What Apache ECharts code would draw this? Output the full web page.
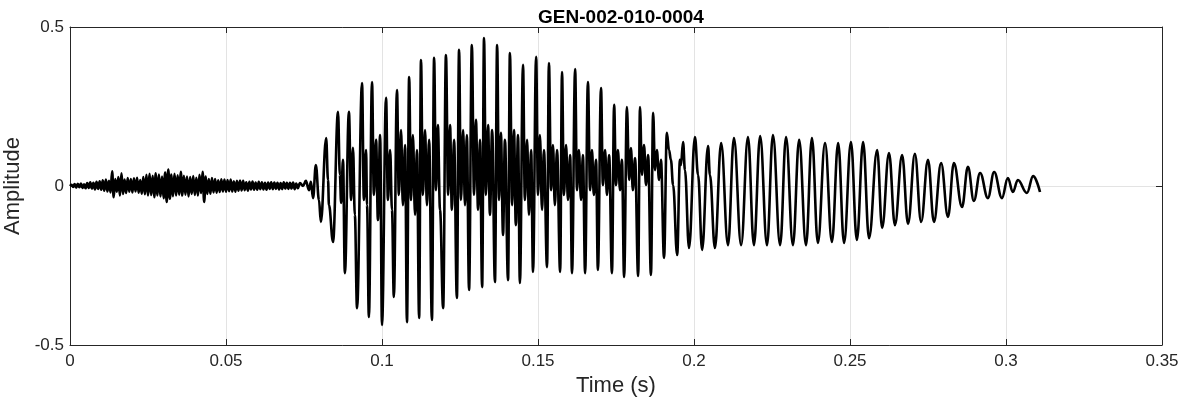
<!DOCTYPE html>
<html>
<head>
<meta charset="utf-8">
<script src="https://cdn.jsdelivr.net/npm/echarts@6/dist/echarts.min.js"></script>
<style>
html,body{margin:0;padding:0;background:#fff;}
#chart{width:1182px;height:404px;}
</style>
</head>
<body>
<div id="chart"></div>
<script>
// ---- Data (time in s, amplitude) ----
const chartTitle = "GEN-002-010-0004";
const xTicks = [0, 0.05, 0.1, 0.15, 0.2, 0.25, 0.3, 0.35];
const yTicks = [-0.5, 0, 0.5];

// low-level noise before voicing onset
const onsetNoise = [
[0.0000,0],[0.0005,0.004],[0.0010,-0.003],[0.0015,0.006],[0.0020,-0.005],[0.0025,0.007],[0.0030,-0.004],[0.0035,0.008],[0.0040,-0.006],[0.0045,0.005],
[0.0050,-0.007],[0.0055,0.009],[0.0060,-0.006],[0.0065,0.012],[0.0070,-0.008],[0.0075,0.010],[0.0080,-0.011],[0.0085,0.013],[0.0090,-0.009],[0.0095,0.015],
[0.0100,-0.012],[0.0105,0.018],[0.0110,-0.015],[0.0115,0.020],[0.0120,-0.017],[0.0125,0.016],[0.0130,-0.020],[0.0135,0.046],[0.0140,-0.035],[0.0145,0.022],
[0.0150,-0.018],[0.0155,0.028],[0.0160,-0.030],[0.0165,0.040],[0.0170,-0.025],[0.0175,0.020],[0.0180,-0.022],[0.0185,0.025],[0.0190,-0.018],[0.0195,0.022],
[0.0200,-0.020],[0.0205,0.024],[0.0210,-0.017],[0.0215,0.026],[0.0220,-0.021],[0.0225,0.019],[0.0230,-0.024],[0.0235,0.028],[0.0240,-0.026],[0.0245,0.035],
[0.0250,-0.030],[0.0255,0.038],[0.0260,-0.028],[0.0265,0.032],[0.0270,-0.035],[0.0275,0.040],[0.0280,-0.030],[0.0285,0.036],[0.0290,-0.033],[0.0295,0.030],
[0.0300,-0.038],[0.0305,0.042],[0.0310,-0.050],[0.0315,0.052],[0.0320,-0.040],[0.0325,0.036],[0.0330,-0.032],[0.0335,0.038],[0.0340,-0.030],[0.0345,0.034],
[0.0350,-0.028],[0.0355,0.045],[0.0360,-0.030],[0.0365,0.032],[0.0370,-0.027],[0.0375,0.030],[0.0380,-0.033],[0.0385,0.028],[0.0390,-0.025],[0.0395,0.031],
[0.0400,-0.028],[0.0405,0.026],[0.0410,-0.030],[0.0415,0.035],[0.0420,-0.022],[0.0425,0.045],[0.0430,-0.050],[0.0435,0.030],[0.0440,-0.025],[0.0445,0.022],
[0.0450,-0.024],[0.0455,0.025],[0.0460,-0.020],[0.0465,0.022],[0.0470,-0.021],[0.0475,0.018],[0.0480,-0.019],[0.0485,0.021],[0.0490,-0.017],[0.0495,0.020],
[0.0500,-0.018],[0.0505,0.019],[0.0510,-0.016],[0.0515,0.020],[0.0520,-0.017],[0.0525,0.015],[0.0530,-0.018],[0.0535,0.016],[0.0540,-0.015],[0.0545,0.017],
[0.0550,-0.014],[0.0555,0.016],[0.0560,-0.013],[0.0565,0.012],[0.0570,-0.015],[0.0575,0.013],[0.0580,-0.011],[0.0585,0.014],[0.0590,-0.012],[0.0595,0.011],
[0.0600,-0.012],[0.0605,0.013],[0.0610,-0.010],[0.0615,0.012],[0.0620,-0.011],[0.0625,0.010],[0.0630,-0.012],[0.0635,0.011],[0.0640,-0.009],[0.0645,0.012],
[0.0650,-0.010],[0.0655,0.011],[0.0660,-0.009],[0.0665,0.010],[0.0670,-0.011],[0.0675,0.009],[0.0680,-0.010],[0.0685,0.012],[0.0690,-0.008],[0.0695,0.010],
[0.0700,-0.009],[0.0705,0.010],[0.0710,-0.008],[0.0715,0.011],[0.0720,-0.010],[0.0725,0.008],[0.0730,-0.007]
];

// voicing onset and dense, strong section (main trough/peak + inner wiggles)
const buildUp = [
[0.0737,0.009],[0.0747,0.0],[0.0756,0.016],[0.0766,-0.013],[0.0772,0.013],[0.0779,-0.038],[0.0788,0.066],[0.0798,-0.044],[0.0804,-0.113],
[0.0821,0.151],[0.0827,0.019],[0.0830,-0.060],[0.0843,-0.176],[0.0859,0.233],[0.0865,0.035],[0.0869,-0.053],[0.0875,0.082],[0.0881,-0.274],
[0.0894,0.233],[0.0901,-0.044],[0.0907,0.120],[0.0913,-0.091],[0.0920,-0.384],[0.0936,0.324],[0.0942,-0.044],[0.0949,0.113],[0.0952,-0.060],
[0.0958,-0.412],[0.0968,0.327],[0.0974,-0.028],[0.0981,0.145],[0.0987,-0.107],[0.0994,0.160],
[0.1000,-0.437],[0.1013,0.277],[0.1019,-0.044],[0.1026,0.113],[0.1032,-0.075],
[0.1038,-0.349],[0.1048,0.302],[0.1054,-0.028],[0.1061,0.176],[0.1067,-0.060],[0.1074,0.129],
[0.1080,-0.428],[0.1087,0.343],[0.1093,-0.044],[0.1099,0.160],[0.1106,-0.091],[0.1112,0.113],
[0.1119,-0.415],[0.1125,0.396],[0.1131,-0.028],[0.1138,0.176],[0.1144,-0.060],[0.1151,0.145],
[0.1160,-0.421],[0.1167,0.403],[0.1173,-0.013],[0.1179,0.192],[0.1186,-0.075],
[0.1196,-0.384],[0.1205,0.412],[0.1212,-0.028],[0.1218,0.192],[0.1224,-0.075],[0.1231,0.145],
[0.1240,-0.352],[0.1247,0.428],[0.1253,-0.044],[0.1260,0.176],[0.1266,-0.060],[0.1272,0.160],
[0.1279,-0.327],[0.1288,0.443],[0.1295,-0.028],[0.1301,0.208],[0.1308,-0.075],[0.1314,0.145],
[0.1321,-0.318],[0.1327,0.465],[0.1333,-0.028],[0.1340,0.192],[0.1346,-0.091],[0.1353,0.176],
[0.1362,-0.302],[0.1369,0.443],[0.1375,-0.044],[0.1381,0.167],[0.1388,-0.154],[0.1394,0.145],
[0.1404,-0.296],[0.1410,0.418],[0.1417,-0.060],[0.1423,0.176],[0.1429,-0.123],[0.1436,0.160],
[0.1442,-0.305],[0.1452,0.381],[0.1458,-0.044],[0.1465,0.145],[0.1471,-0.091],[0.1478,0.113],
[0.1484,-0.270],[0.1494,0.406],[0.1500,-0.028],[0.1506,0.160],[0.1513,-0.075],[0.1519,0.113],
[0.1529,-0.255],[0.1535,0.387],[0.1542,-0.013],[0.1548,0.129],[0.1554,-0.060],[0.1561,0.113],
[0.1571,-0.270],[0.1577,0.358],[0.1583,-0.028],[0.1590,0.129],[0.1596,-0.044],[0.1603,0.097],
[0.1609,-0.274],[0.1619,0.368],[0.1625,-0.013],[0.1631,0.113],[0.1638,-0.044],[0.1644,0.097],
[0.1651,-0.274],[0.1660,0.327],[0.1667,-0.013],[0.1673,0.113],[0.1679,-0.028],[0.1686,0.082],
[0.1692,-0.264],[0.1702,0.308],[0.1708,0.003],[0.1715,0.113],[0.1721,-0.028],[0.1728,0.097],
[0.1737,-0.274],[0.1744,0.255],[0.1750,0.003],[0.1756,0.113],[0.1763,-0.013],[0.1769,0.082],
[0.1776,-0.286],[0.1785,0.248],[0.1792,0.019],[0.1798,0.119],[0.1804,-0.013],[0.1811,0.088],
[0.1821,-0.283],[0.1827,0.248],[0.1833,0.035],[0.1840,0.129],[0.1846,0.003],[0.1853,0.097],
[0.1862,-0.280],[0.1869,0.230],[0.1875,0.050],[0.1881,0.113],[0.1888,0.019],[0.1894,0.082]
];

// transition to smooth periodic section
const sustain = [
[0.1904,-0.226],[0.1913,0.167],[0.1920,0.113],[0.1926,0.082],[0.1933,0.003],
[0.1946,-0.217],[0.1955,0.082],[0.1958,0.066],[0.1965,0.138],[0.1971,0.050],
[0.1984,-0.195],[0.2003,0.154],[0.2013,0.035],[0.2026,-0.201],[0.2045,0.126],[0.2051,0.035],
[0.2067,-0.195],[0.2087,0.135],[0.2109,-0.186],[0.2128,0.151],[0.2151,-0.186],[0.2173,0.154],
[0.2192,-0.186],[0.2212,0.157],[0.2234,-0.186],[0.2253,0.160],[0.2276,-0.186],[0.2295,0.154],
[0.2317,-0.186],[0.2337,0.145],[0.2359,-0.186],[0.2378,0.151],[0.2397,-0.179],[0.2420,0.135],
[0.2442,-0.176],[0.2462,0.135],[0.2481,-0.179],[0.2503,0.138]
];

// decaying tail
const decay = [
[0.2522,-0.170],[0.2542,0.138],[0.2561,-0.164],[0.2587,0.113],[0.2603,-0.132],[0.2625,0.104],
[0.2644,-0.123],[0.2667,0.097],[0.2686,-0.119],[0.2708,0.101],[0.2728,-0.113],[0.2750,0.082],
[0.2769,-0.113],[0.2792,0.072],[0.2814,-0.097],[0.2833,0.072],[0.2859,-0.066],[0.2878,0.060],
[0.2897,-0.047],[0.2917,0.041],[0.2942,-0.038],[0.2962,0.044],[0.2987,-0.038],[0.3006,0.025],
[0.3022,-0.019],[0.3038,0.019],[0.3067,-0.022],[0.3087,0.031],[0.3109,-0.019]
];

// ---- Chart ----
const waveform = onsetNoise.concat(buildUp, sustain, decay);
const axisColor = '#262626';
const gridColor = '#e3e3e3';
const fontFam = '"Liberation Sans", Arial, Helvetica, sans-serif';

const chart = echarts.init(document.getElementById('chart'), null, {renderer: 'canvas'});
chart.setOption({
  animation: false,
  backgroundColor: '#ffffff',
  title: {
    text: chartTitle,
    left: 616, top: 3, textAlign: 'center',
    textStyle: {fontFamily: fontFam, fontSize: 19, fontWeight: 'bold', color: '#000'}
  },
  grid: {left: 70, right: 20, top: 27, bottom: 59, containLabel: false, outerBoundsMode: 'none'},
  xAxis: [{
    type: 'value', min: xTicks[0], max: xTicks[xTicks.length-1], interval: 0.05,
    position: 'bottom',
    name: 'Time (s)', nameLocation: 'middle', nameGap: 30,
    nameTextStyle: {fontFamily: fontFam, fontSize: 22, color: axisColor},
    axisLine: {show: true, onZero: false, lineStyle: {color: axisColor, width: 1}},
    axisTick: {show: true, inside: true, length: 6, lineStyle: {color: axisColor}},
    axisLabel: {fontFamily: fontFam, fontSize: 17, color: axisColor, margin: 8},
    splitLine: {show: true, lineStyle: {color: gridColor, width: 1}}
  },{
    type: 'value', min: xTicks[0], max: xTicks[xTicks.length-1], interval: 0.05,
    position: 'top',
    axisLine: {show: true, onZero: false, lineStyle: {color: axisColor, width: 1}},
    axisTick: {show: true, inside: true, length: 6, lineStyle: {color: axisColor}},
    axisLabel: {show: false}, splitLine: {show: false}
  }],
  yAxis: [{
    type: 'value', min: yTicks[0], max: yTicks[yTicks.length-1], interval: 0.5,
    position: 'left',
    name: 'Amplitude', nameLocation: 'middle', nameGap: 46, nameRotate: 90,
    nameTextStyle: {fontFamily: fontFam, fontSize: 22, color: axisColor},
    axisLine: {show: true, onZero: false, lineStyle: {color: axisColor, width: 1}},
    axisTick: {show: true, inside: true, length: 6, lineStyle: {color: axisColor}},
    axisLabel: {fontFamily: fontFam, fontSize: 17, color: axisColor, margin: 6},
    splitLine: {show: true, lineStyle: {color: gridColor, width: 1}}
  },{
    type: 'value', min: yTicks[0], max: yTicks[yTicks.length-1], interval: 0.5,
    position: 'right',
    axisLine: {show: true, onZero: false, lineStyle: {color: axisColor, width: 1}},
    axisTick: {show: true, inside: true, length: 6, lineStyle: {color: axisColor}},
    axisLabel: {show: false}, splitLine: {show: false}
  }],
  series: [{
    type: 'line',
    xAxisIndex: 0, yAxisIndex: 0,
    data: waveform,
    showSymbol: false,
    smooth: 0.4,
    smoothMonotone: 'x',
    lineStyle: {color: '#000000', width: 2.6, join: 'round'},
    itemStyle: {color: '#000000'},
    z: 5
  }]
});
</script>
</body>
</html>
